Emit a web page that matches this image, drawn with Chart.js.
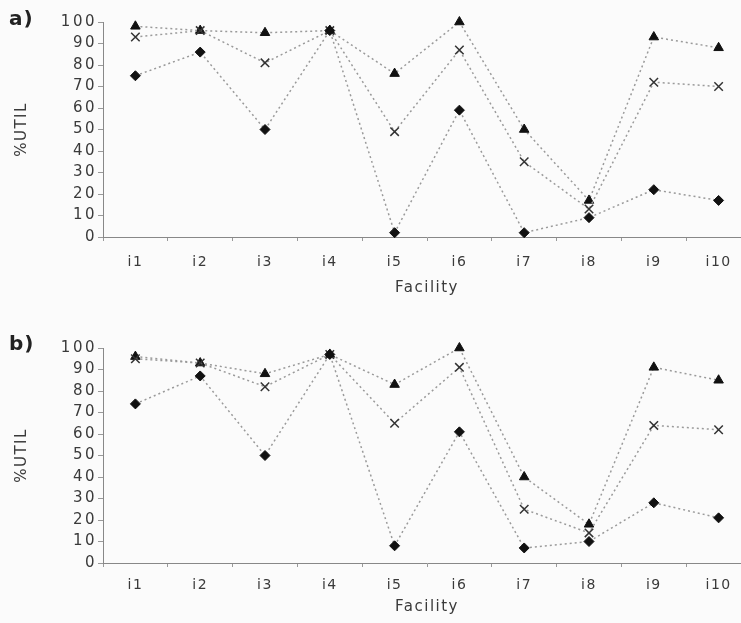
<!DOCTYPE html>
<html>
<head>
<meta charset="utf-8">
<script src="https://cdn.jsdelivr.net/npm/chart.js@4.4.1/dist/chart.umd.min.js"></script>
<style>
  html, body { margin: 0; padding: 0; background: #fbfbfb; overflow: hidden; width: 741px; height: 623px; }
  .wrap { position: absolute; left: 0; }
  .tag { position: absolute; left: 9px; font: bold 20px "DejaVu Sans", sans-serif; letter-spacing: 1px; color: #222; }
</style>
</head>
<body>
<div class="wrap" style="top:0;"><canvas id="ca" width="760" height="300"></canvas></div>
<div class="wrap" style="top:310px;"><canvas id="cb" width="760" height="313"></canvas></div>
<div class="tag" style="top:6px;">a)</div>
<div class="tag" style="top:331px;">b)</div>
<script>
const categories = ['i1','i2','i3','i4','i5','i6','i7','i8','i9','i10'];
const yTicks = [0,10,20,30,40,50,60,70,80,90,100];

const aTriangle = [98, 96, 95, 96, 76, 100, 50, 17, 93, 88];
const aCross    = [93, 96, 81, 96, 49, 87, 35, 13, 72, 70];
const aDiamond  = [75, 86, 50, 96, 2, 59, 2, 9, 22, 17];

const bTriangle = [96, 93, 88, 97, 83, 100, 40, 18, 91, 85];
const bCross    = [95, 93, 82, 97, 65, 91, 25, 14, 64, 62];
const bDiamond  = [74, 87, 50, 97, 8, 61, 7, 10, 28, 21];

const FONT = '"DejaVu Sans", "Liberation Sans", sans-serif';
const TXT = '#3a3a3a';
const LINE = '#9a9a9a';

function ds(data, style) {
  const common = {
    data,
    borderColor: LINE,
    borderWidth: 1.5,
    borderDash: [2, 3],
    fill: false,
    tension: 0,
    clip: false,
    pointHoverRadius: 0
  };
  if (style === 'tri') return Object.assign(common, { pointStyle: 'triangle', pointRadius: 5.5, pointBackgroundColor: '#111', pointBorderColor: '#111', pointBorderWidth: 1 });
  if (style === 'cross') return Object.assign(common, { pointStyle: 'crossRot', pointRadius: 6, pointBackgroundColor: '#333', pointBorderColor: '#333', pointBorderWidth: 1.5 });
  return Object.assign(common, { pointStyle: 'rectRot', pointRadius: 5, pointBackgroundColor: '#111', pointBorderColor: '#111', pointBorderWidth: 1 });
}

const spacing = {
  id: 'spacing',
  beforeDraw(chart) { chart.ctx.letterSpacing = '1.5px'; }
};

function makeChart(id, tri, cross, dia, cfg) {
  const chart = new Chart(document.getElementById(id), {
    type: 'line',
    data: { labels: categories, datasets: [ds(dia, 'dia'), ds(cross, 'cross'), ds(tri, 'tri')] },
    plugins: [spacing],
    options: {
      responsive: false,
      animation: false,
      devicePixelRatio: 1,
      layout: { padding: { top: cfg.top, left: 0, right: 9, bottom: 0 } },
      plugins: { legend: { display: false }, tooltip: { enabled: false } },
      scales: {
        x: {
          type: 'category',
          offset: true,
          grid: { display: true, drawOnChartArea: false, drawTicks: true, tickLength: 4, color: '#999', offset: true },
          border: { display: true, color: '#888', width: 1 },
          ticks: { color: TXT, font: { family: FONT, size: 14 }, padding: cfg.tickPad, maxRotation: 0, autoSkip: false },
          title: { display: true, text: 'Facility', color: TXT, font: { family: FONT, size: 15 }, padding: { top: 0, bottom: cfg.titlePad } },
          afterFit(scale) { scale.height = cfg.xh; }
        },
        y: {
          min: 0, max: 100,
          afterBuildTicks(scale) { scale.ticks = yTicks.map(v => ({ value: v })); },
          grid: { display: true, drawOnChartArea: false, drawTicks: true, tickLength: 5, color: '#999' },
          border: { display: true, color: '#888', width: 1 },
          ticks: { color: TXT, font: { family: FONT, size: 15 }, padding: 1 },
          title: { display: true, text: '%UTIL', color: TXT, font: { family: FONT, size: 15 }, padding: { top: 13, bottom: 0 } },
          afterFit(scale) { scale.width = 103; }
        }
      }
    }
  });
  const ys = chart.scales.y;
  const proto = Object.getPrototypeOf(ys);
  ys.drawLabels = function (area) {
    const ctx = this.ctx;
    const prev = ctx.letterSpacing;
    ctx.letterSpacing = '2.5px';
    proto.drawLabels.call(this, area);
    ctx.letterSpacing = prev;
  };
  chart.draw();
  return chart;
}

makeChart('ca', aTriangle, aCross, aDiamond, { top: 22, xh: 63, tickPad: 13, titlePad: 3 });
makeChart('cb', bTriangle, bCross, bDiamond, { top: 38, xh: 60, tickPad: 10, titlePad: 7 });
</script>
</body>
</html>
